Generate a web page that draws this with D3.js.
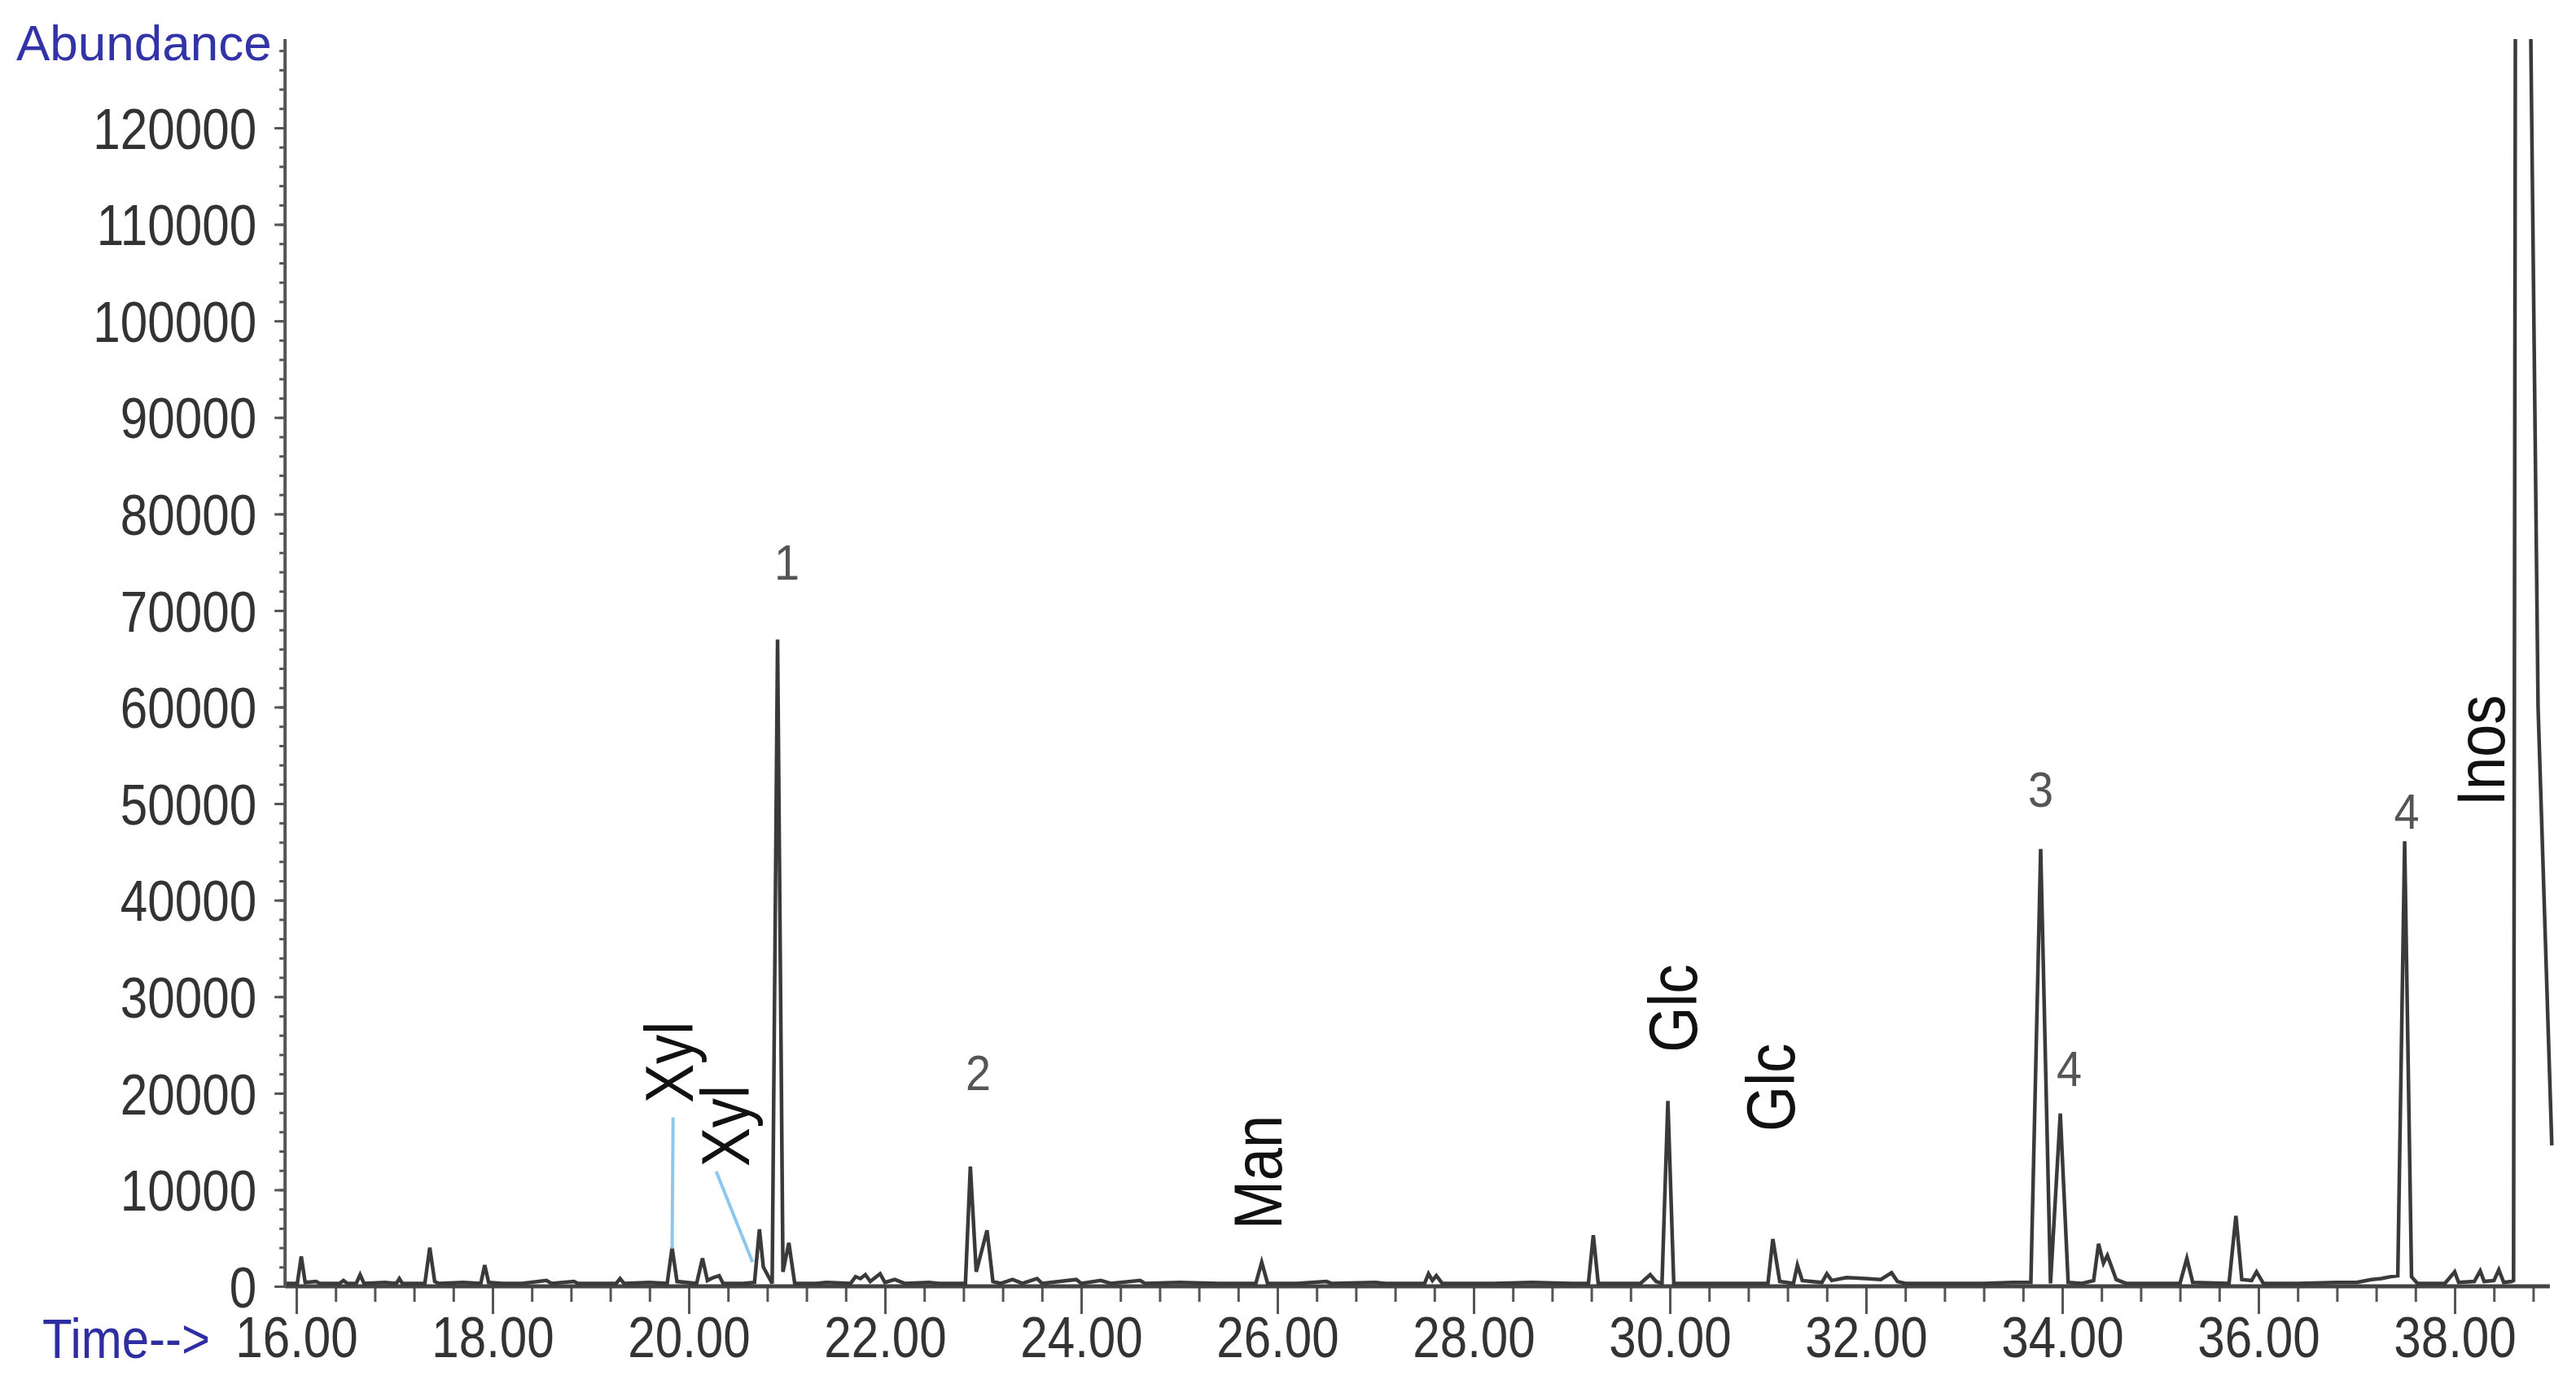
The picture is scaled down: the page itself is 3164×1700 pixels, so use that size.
<!DOCTYPE html>
<html>
<head>
<meta charset="utf-8">
<script src="https://cdn.jsdelivr.net/npm/d3@7"></script>
<style>
  body { margin: 0; background: #fff; }
  svg { display: block; font-family: "Liberation Sans", Arial, sans-serif; }
</style>
</head>
<body>
<svg id="chart" width="3164" height="1700"></svg>
<script>
'use strict';

// Chromatogram trace: [time (min), abundance]
var trace = [
    [15.90, 300],
    [16.01, 300], [16.05, 3100], [16.09, 400],
    [16.20, 500], [16.24, 300],
    [16.44, 300], [16.48, 600], [16.52, 300],
    [16.61, 300], [16.65, 1200], [16.69, 300],
    [16.90, 400], [17.02, 300], [17.05, 800], [17.08, 300],
    [17.31, 300], [17.36, 4000], [17.41, 500], [17.45, 300],
    [17.70, 400], [17.88, 300], [17.92, 2200], [17.96, 400],
    [18.10, 300], [18.30, 300], [18.55, 600], [18.60, 300],
    [18.83, 500], [18.87, 300], [19.26, 300], [19.30, 800], [19.34, 300],
    [19.60, 400], [19.78, 300], [19.83, 4000], [19.88, 500],
    [20.08, 300], [20.14, 2900], [20.19, 600], [20.25, 900], [20.31, 1100], [20.35, 300],
    [20.55, 300], [20.67, 400], [20.72, 5900], [20.76, 2000],
    [20.85, 300], [20.905, 67000], [20.96, 1500], [21.02, 4500], [21.08, 300],
    [21.30, 300], [21.40, 400], [21.65, 300], [21.70, 1000], [21.75, 800], [21.80, 1200],
    [21.85, 500], [21.95, 1300], [22.00, 400], [22.10, 700], [22.20, 300],
    [22.45, 400], [22.55, 300], [22.82, 300], [22.87, 12400], [22.93, 1500],
    [23.04, 5800], [23.10, 500], [23.18, 300],
    [23.30, 700], [23.40, 300], [23.55, 800], [23.60, 300], [23.95, 700], [24.00, 300],
    [24.20, 600], [24.30, 300], [24.60, 600], [24.65, 300],
    [25.00, 400], [25.40, 300], [25.78, 300], [25.84, 2500], [25.90, 300],
    [26.20, 300], [26.50, 500], [26.55, 300], [27.00, 400], [27.10, 300],
    [27.50, 300], [27.54, 1300], [27.58, 600], [27.62, 1100], [27.68, 300],
    [28.20, 300], [28.60, 400], [29.00, 300], [29.17, 300], [29.22, 5300], [29.27, 300],
    [29.70, 300], [29.80, 1200], [29.86, 500], [29.92, 300], [29.98, 19200], [30.04, 300],
    [30.50, 300], [31.00, 300], [31.05, 4900], [31.12, 500], [31.26, 300], [31.30, 2200], [31.35, 600],
    [31.55, 400], [31.60, 1300], [31.65, 600], [31.80, 900], [32.00, 800], [32.15, 700],
    [32.26, 1400], [32.32, 500], [32.40, 300],
    [32.80, 300], [33.20, 300], [33.50, 400],
    [33.68, 400], [33.78, 45300], [33.88, 300], [33.98, 17900], [34.06, 400],
    [34.20, 300], [34.32, 600], [34.37, 4400], [34.42, 2400], [34.46, 3200], [34.55, 700], [34.65, 300],
    [35.00, 300], [35.20, 300], [35.27, 2900], [35.33, 400],
    [35.70, 300], [35.77, 7300], [35.83, 700], [35.93, 600], [35.98, 1500], [36.05, 300],
    [36.40, 300], [36.80, 400], [37.00, 400], [37.15, 700], [37.25, 800], [37.35, 1000],
    [37.42, 1100], [37.49, 46100], [37.56, 1000], [37.62, 300],
    [37.90, 300], [38.00, 1500], [38.04, 400], [38.20, 500], [38.26, 1600], [38.30, 500],
    [38.40, 600], [38.45, 1700], [38.50, 400], [38.58, 500],
    [38.60, 600], [38.70, 700000], [38.77, 135000], [38.85, 60000], [38.99, 14600]
];

// Axis ticks
var xMajorTicks = [16, 18, 20, 22, 24, 26, 28, 30, 32, 34, 36, 38];
var yMajorTicks = [0, 10000, 20000, 30000, 40000, 50000, 60000, 70000, 80000, 90000, 100000, 110000, 120000];

// Numbered peak labels: text, time, abundance (label centre)
var peakLabels = [
    ['1', 21.00, 75000],
    ['2', 22.95, 22100],
    ['3', 33.78, 51500],
    ['4', 34.07, 22600],
    ['4', 37.51, 49200]
];

// Sugar labels, written upwards: text, time, abundance (label centre)
var sugarLabels = [
    ['Xyl', 19.80, 23200],
    ['Xyl', 20.37, 16600],
    ['Man', 25.80, 11800],
    ['Glc', 30.03, 28800],
    ['Glc', 31.03, 20600],
    ['Inos', 38.27, 55500]
];

// Light blue leader lines from the Xyl labels to their peaks
var leaderLines = [
    [[19.84, 17500], [19.83, 3900]],
    [[20.28, 11900], [20.65, 2500]]
];


var svg = d3.select('#chart');

var tStart = 15.885,  // where the y axis crosses
    tEnd = 38.97,
    vTop = 129200;

var x = d3.scaleLinear().domain([16, 38]).range([364, 3015]),
    y = d3.scaleLinear().domain([0, 120000]).range([1580, 157]);

var narrow = 0.86;   // the original font is a condensed one


svg.append('defs').append('clipPath')
    .attr('id', 'plot-clip')
    .append('rect')
    .attr('x', x(tStart))
    .attr('y', y(vTop))
    .attr('width', 3164 - x(tStart))
    .attr('height', 1700 - y(vTop));


function drawXAxis() {
    var minor = d3.range(16, 38.81, 0.4);

    var gMinor = svg.append('g')
        .attr('transform', 'translate(0,' + y(0) + ')')
        .call(d3.axisBottom(x).tickValues(minor).tickSize(19).tickFormat(''));

    var gMajor = svg.append('g')
        .attr('transform', 'translate(0,' + y(0) + ')')
        .call(d3.axisBottom(x).tickValues(xMajorTicks).tickSize(34).tickPadding(3)
            .tickFormat(d3.format('.2f')));

    [gMinor, gMajor].forEach(function (g) {
        g.select('.domain').remove();
        g.selectAll('.tick line').attr('stroke', '#555').attr('stroke-width', 3);
    });

    gMajor.selectAll('.tick text')
        .attr('fill', '#333')
        .attr('font-size', 70)
        .attr('font-family', '"Liberation Sans", Arial, sans-serif')
        .attr('transform', 'scale(' + narrow + ',1)');

    svg.append('line')
        .attr('x1', x(tStart))
        .attr('x2', x(tEnd))
        .attr('y1', y(0))
        .attr('y2', y(0))
        .attr('stroke', '#444')
        .attr('stroke-width', 5);

    svg.append('text')
        .attr('x', 52)
        .attr('y', 1668)
        .attr('textLength', 206)
        .attr('lengthAdjust', 'spacingAndGlyphs')
        .attr('fill', '#2e2ea0')
        .attr('font-size', 69)
        .text('Time-->');
}


function drawYAxis() {
    var minor = d3.range(0, 128001, 2000);
    var ax = x(tStart);

    var gMinor = svg.append('g')
        .attr('transform', 'translate(' + ax + ',0)')
        .call(d3.axisLeft(y).tickValues(minor).tickSize(7).tickFormat(''));

    var gMajor = svg.append('g')
        .attr('transform', 'translate(' + ax + ',0)')
        .call(d3.axisLeft(y).tickValues(yMajorTicks).tickSize(13).tickFormat(d3.format('d')));

    [gMinor, gMajor].forEach(function (g) {
        g.select('.domain').remove();
        g.selectAll('.tick line').attr('stroke', '#555').attr('stroke-width', 3);
    });

    gMajor.selectAll('.tick text')
        .attr('fill', '#333')
        .attr('font-size', 70)
        .attr('font-family', '"Liberation Sans", Arial, sans-serif')
        .attr('x', -35 / narrow)
        .attr('dy', '0.36em')
        .attr('transform', 'scale(' + narrow + ',1)');

    svg.append('line')
        .attr('x1', ax)
        .attr('x2', ax)
        .attr('y1', y(vTop))
        .attr('y2', y(0))
        .attr('stroke', '#555')
        .attr('stroke-width', 4);

    svg.append('text')
        .attr('x', 20)
        .attr('y', 74)
        .attr('fill', '#3333a8')
        .attr('font-size', 62)
        .text('Abundance');
}


function drawTrace() {
    var line = d3.line()
        .x(function (d) { return x(d[0]); })
        .y(function (d) { return y(d[1]); });

    svg.append('path')
        .datum(trace)
        .attr('clip-path', 'url(#plot-clip)')
        .attr('d', line)
        .attr('fill', 'none')
        .attr('stroke', '#3a3a3a')
        .attr('stroke-width', 4.5)
        .attr('stroke-linejoin', 'miter');
}


function drawLabels() {
    svg.selectAll('.leader')
        .data(leaderLines)
        .enter().append('line')
        .attr('class', 'leader')
        .attr('x1', function (d) { return x(d[0][0]); })
        .attr('y1', function (d) { return y(d[0][1]); })
        .attr('x2', function (d) { return x(d[1][0]); })
        .attr('y2', function (d) { return y(d[1][1]); })
        .attr('stroke', '#8cc8ee')
        .attr('stroke-width', 4);

    svg.selectAll('.peak-label')
        .data(peakLabels)
        .enter().append('text')
        .attr('class', 'peak-label')
        .attr('transform', function (d) {
            return 'translate(' + x(d[1]) + ',' + y(d[2]) + ') scale(0.9,1)';
        })
        .attr('text-anchor', 'middle')
        .attr('dominant-baseline', 'central')
        .attr('fill', '#555')
        .attr('font-size', 62)
        .text(function (d) { return d[0]; });

    svg.selectAll('.sugar-label')
        .data(sugarLabels)
        .enter().append('text')
        .attr('class', 'sugar-label')
        .attr('transform', function (d) {
            return 'translate(' + x(d[1]) + ',' + y(d[2]) + ') rotate(-90) scale(' + narrow + ',1)';
        })
        .attr('text-anchor', 'middle')
        .attr('dominant-baseline', 'central')
        .attr('fill', '#111')
        .attr('font-size', 84)
        .text(function (d) { return d[0]; });
}


drawXAxis();
drawYAxis();
drawTrace();
drawLabels();
</script>
</body>
</html>
